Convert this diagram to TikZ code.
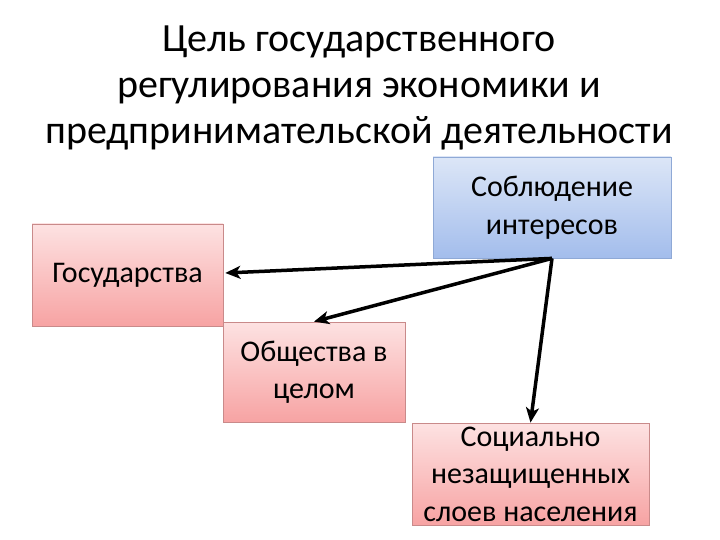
\documentclass[tikz,border=0pt]{standalone}
\usepackage{fontspec}
\setmainfont{Carlito}
\usetikzlibrary{arrows.meta}
\definecolor{bluetop}{HTML}{DCE6F7}
\definecolor{bluebot}{HTML}{A3BDEC}
\definecolor{blueline}{HTML}{8FA9D6}
\definecolor{pinktop}{HTML}{FDE2E2}
\definecolor{pinkbot}{HTML}{F7A3A3}
\definecolor{pinkline}{HTML}{C98A8A}
\tikzset{
  box/.style={draw, line width=0.8pt, inner sep=0pt},
  bluebox/.style={box, draw=blueline, top color=bluetop, bottom color=bluebot},
  pinkbox/.style={box, draw=pinkline, top color=pinktop, bottom color=pinkbot},
  boxtext/.style={align=center, inner sep=0pt, text=black,
    font=\fontsize{30}{37.5}\selectfont},
  conn/.style={line width=3.5pt, -{Stealth[length=15pt,width=13pt,inset=4pt]}},
  title/.style={align=center, font=\fontsize{40}{46}\selectfont}
}
\begin{document}
\begin{tikzpicture}[x=1pt,y=-1pt]
\useasboundingbox (0,0) rectangle (720,540);
\node[title] (t) at (359,88) {Цель государственного\\регулирования экономики и\\предпринимательской деятельности};
\node[bluebox, minimum width=238pt, minimum height=101pt] (blue) at (552,207.5) {};
\node[boxtext] (blueT) at (blue.center) {Соблюдение\\интересов};
\node[pinkbox, minimum width=191pt, minimum height=102pt] (gos) at (127.5,275) {};
\node[boxtext] (gosT) at (gos.center) {Государства};
\node[pinkbox, minimum width=182pt, minimum height=100pt] (obsh) at (314,372) {};
\node[boxtext] (obshT) at (obsh.center) {Общества в\\целом};
\node[pinkbox, minimum width=237pt, minimum height=102pt] (soc) at (530.5,474) {};
\node[boxtext] (socT) at (soc.center) {Социально\\незащищенных\\слоев населения};
\draw[conn] (blue.south) -- ([xshift=2pt,yshift=2pt]gos.east);
\draw[conn] (blue.south) -- (obsh.north);
\draw[conn] (blue.south) -- (soc.north);
\end{tikzpicture}
\end{document}
